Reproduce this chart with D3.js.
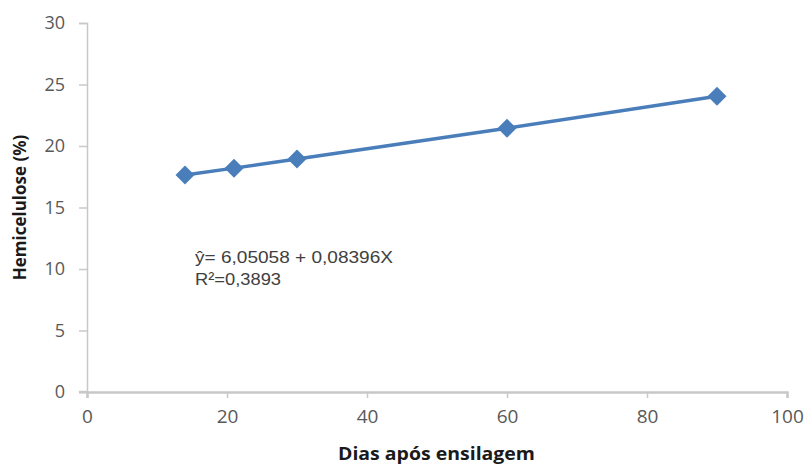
<!DOCTYPE html>
<html>
<head>
<meta charset="utf-8">
<script src="https://cdn.jsdelivr.net/npm/d3@7"></script>
<style>
    body { margin: 0; background: #fff; }
    svg { display: block; }
</style>
</head>
<body>
<div id="content"></div>
<script>
// ******* DATA *******
const days = [14, 21, 30, 60, 90];
const hemicellulose = [17.65, 18.2, 18.95, 21.45, 24.05];
const xTicks = [0, 20, 40, 60, 80, 100];
const yTicks = [0, 5, 10, 15, 20, 25, 30];
const equationLines = ["ŷ= 6,05058 + 0,08396X", "R²=0,3893"];
const equationWidths = [198, 86];

// ******* LAYOUT *******
const width = 807, height = 467;
const margin = { left: 87, right: 20, top: 23, bottom: 75 };

const svg = d3.select("#content").append("svg")
    .attr("width", width)
    .attr("height", height);

const x = d3.scaleLinear().domain([0, 100]).range([margin.left, 787]);
const y = d3.scaleLinear().domain([0, 30]).range([392, margin.top]);

const axisColor = "#c8c8c8";
const labelColor = "#595959";

// y axis
const yAxis = svg.append("g")
    .attr("transform", `translate(${margin.left},0)`)
    .call(d3.axisLeft(y).tickValues(yTicks).tickSize(8).tickPadding(14));
yAxis.select(".domain").attr("stroke", axisColor).attr("stroke-width", 1.5);
yAxis.selectAll(".tick line").attr("stroke", axisColor).attr("stroke-width", 1.5);
yAxis.selectAll(".tick text")
    .attr("fill", labelColor)
    .attr("font-family", "Open Sans")
    .attr("font-size", 18);

// x axis
const xAxis = svg.append("g")
    .attr("transform", `translate(0,${y(0)})`)
    .call(d3.axisBottom(x).tickValues(xTicks).tickSize(6).tickPadding(12));
xAxis.select(".domain").attr("stroke", axisColor).attr("stroke-width", 2.5);
xAxis.selectAll(".tick line").attr("stroke", axisColor).attr("stroke-width", 1.5);
xAxis.selectAll(".tick text")
    .attr("fill", labelColor)
    .attr("font-family", "Open Sans")
    .attr("font-size", 19);

// extend x axis line left like the original
svg.append("line")
    .attr("x1", margin.left - 8).attr("x2", margin.left)
    .attr("y1", y(0)).attr("y2", y(0))
    .attr("stroke", axisColor).attr("stroke-width", 2.5);

// axis titles
svg.append("text")
    .attr("x", 338).attr("y", 460)
    .attr("font-family", "Open Sans")
    .attr("font-weight", "bold")
    .attr("font-size", 17)
    .attr("textLength", 197)
    .attr("lengthAdjust", "spacingAndGlyphs")
    .attr("fill", "#1a1a1a")
    .text("Dias após ensilagem");

svg.append("text")
    .attr("transform", `translate(26,${(y(0) + y(30)) / 2}) rotate(-90)`)
    .attr("text-anchor", "middle")
    .attr("font-family", "Open Sans")
    .attr("font-weight", "bold")
    .attr("font-size", 17)
    .attr("fill", "#1a1a1a")
    .text("Hemicelulose (%)");

// ******* SERIES *******
const points = days.map((d, i) => ({ x: d, y: hemicellulose[i] }));
const blue = "#4a7ebb";

svg.append("path")
    .datum(points)
    .attr("fill", "none")
    .attr("stroke", blue)
    .attr("stroke-width", 3.5)
    .attr("d", d3.line().x(d => x(d.x)).y(d => y(d.y)));

svg.selectAll(".marker")
    .data(points)
    .enter().append("path")
    .attr("class", "marker")
    .attr("fill", blue)
    .attr("transform", d => `translate(${x(d.x)},${y(d.y)}) rotate(45)`)
    .attr("d", d3.symbol().type(d3.symbolSquare).size(180));

// ******* EQUATION *******
svg.append("g").selectAll("text")
    .data(equationLines)
    .enter().append("text")
    .attr("x", 195)
    .attr("y", (d, i) => 263 + i * 22)
    .attr("font-family", "Liberation Sans")
    .attr("font-size", 17)
    .attr("textLength", (d, i) => equationWidths[i])
    .attr("lengthAdjust", "spacingAndGlyphs")
    .attr("fill", "#404040")
    .text(d => d);
</script>
</body>
</html>
